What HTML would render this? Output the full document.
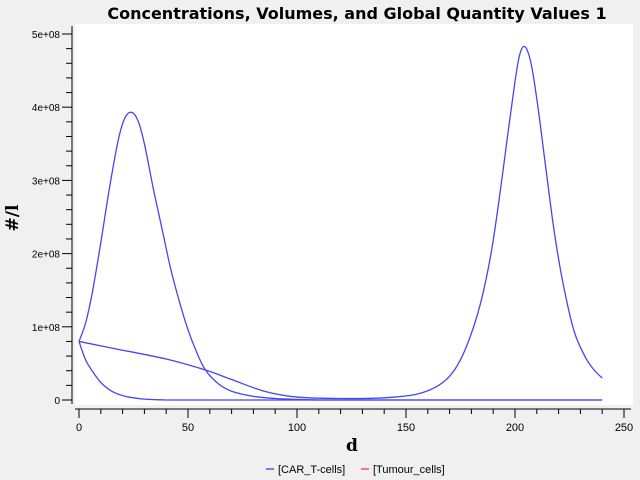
<!DOCTYPE html>
<html><head><meta charset="utf-8"><style>
html,body{margin:0;padding:0;overflow:hidden;background:#f0f0f0;font-family:"Liberation Sans",sans-serif}
svg{display:block}
</style></head><body>
<svg width="640" height="480" xmlns="http://www.w3.org/2000/svg">
<rect x="0" y="0" width="640" height="480" fill="#f0f0f0"/>
<rect x="75" y="24" width="558" height="381" fill="#fff"/>
<text x="357" y="19" text-anchor="middle" font-size="16" font-weight="bold" font-family="DejaVu Sans,sans-serif">Concentrations, Volumes, and Global Quantity Values 1</text>
<text x="352" y="451" text-anchor="middle" font-size="17" font-weight="bold" font-family="DejaVu Serif,serif">d</text>
<text transform="translate(18,218) rotate(-90)" text-anchor="middle" font-size="17" font-weight="bold" font-family="DejaVu Serif,serif">#/l</text>
<g id="axes"></g>
<g id="series"></g>
<g font-size="11">
<line x1="266" y1="469" x2="274" y2="469" stroke="#0000ff"/>
<text x="278" y="473">[CAR_T-cells]</text>
<line x1="361" y1="469" x2="369" y2="469" stroke="#ff0000"/>
<text x="373" y="473">[Tumour_cells]</text>
</g>
</svg>
<script>
const xTicks=[0,50,100,150,200,250];
const yTicks=[0,1e8,2e8,3e8,4e8,5e8];
const yTickLabels=["0","1e+08","2e+08","3e+08","4e+08","5e+08"];
const carT_t=[0,3,6,10,14,18,21,24,27,30,34,38,42,46,50,54,58,64,70,80,90,100,110,120,240];
const carT_v=[0.8,1.05,1.45,2.15,2.9,3.55,3.85,3.93,3.82,3.5,2.9,2.35,1.8,1.35,0.96,0.65,0.41,0.22,0.12,0.05,0.02,0.008,0,0,0];
const tum_t=[0,20,40,58,70,85,100,120,140,155,165,172,178,184,189,193,197,200,202,204,206,208,211,214,218,222,227,232,236,240];
const tum_v=[0.8,0.68,0.56,0.41,0.28,0.12,0.04,0.02,0.03,0.08,0.2,0.4,0.75,1.3,2.0,2.8,3.7,4.35,4.7,4.83,4.75,4.5,3.9,3.2,2.3,1.6,0.95,0.6,0.42,0.3];
const init_t=[0,3,6,10,15,20,25,30,35,40,45,50,60,240];
const init_v=[0.8,0.55,0.4,0.24,0.12,0.06,0.03,0.012,0.004,0,0,0,0,0];
const NS="http://www.w3.org/2000/svg";
const X=t=>79+t*2.18, Y=v=>400-v*366/5e8;
const ax=document.getElementById('axes');
function el(tag,attrs,parent){const e=document.createElementNS(NS,tag);for(const k in attrs)e.setAttribute(k,attrs[k]);parent.appendChild(e);return e;}
let a=el('line',{x1:72,y1:26,x2:72,y2:404,stroke:'#000'},ax);


a=el('line',{x1:75,y1:409,x2:631,y2:409,stroke:'#000'},ax);


for(let v=0;v<=5e8;v+=2e7){const big=v%1e8===0;el('line',{x1:big?62:66,y1:Y(v),x2:72,y2:Y(v),stroke:'#000'},ax);}
for(let t=0;t<=250;t+=10){const big=t%50===0;el('line',{x1:X(t),y1:409,x2:X(t),y2:big?418:414,stroke:'#000'},ax);}
yTicks.forEach((v,i)=>{const t=el('text',{x:60,y:Y(v)+4,'text-anchor':'end','font-size':10},ax);t.textContent=yTickLabels[i];

});
xTicks.forEach(v=>{const t=el('text',{x:X(v),y:431,'text-anchor':'middle','font-size':11},ax);t.textContent=v;

});
const sg=document.getElementById('series');
function smooth(pts){let d='M'+pts[0][0]+','+pts[0][1];for(let i=0;i<pts.length-1;i++){const p0=pts[Math.max(0,i-1)],p1=pts[i],p2=pts[i+1],p3=pts[Math.min(pts.length-1,i+2)];
let c1x=p1[0]+(p2[0]-p0[0])/6,c1y=p1[1]+(p2[1]-p0[1])/6,c2x=p2[0]-(p3[0]-p1[0])/6,c2y=p2[1]-(p3[1]-p1[1])/6;
c1x=Math.min(Math.max(c1x,p1[0]),p2[0]);c2x=Math.min(Math.max(c2x,p1[0]),p2[0]);
d+=' C'+c1x+','+Math.min(400,c1y)+' '+c2x+','+Math.min(400,c2y)+' '+p2[0]+','+p2[1];}return d;}
function draw(ts,vs,name){const pts=ts.map((t,i)=>[X(t),Y(vs[i]*1e8)]);const p=el('path',{d:smooth(pts),fill:'none',stroke:'#4646f0','stroke-width':1.3},sg);

}
draw(init_t,init_v,'series-initial-decay');
draw(carT_t,carT_v,'series-car-t-cells');
draw(tum_t,tum_v,'series-tumour-cells');
</script>
</body></html>
